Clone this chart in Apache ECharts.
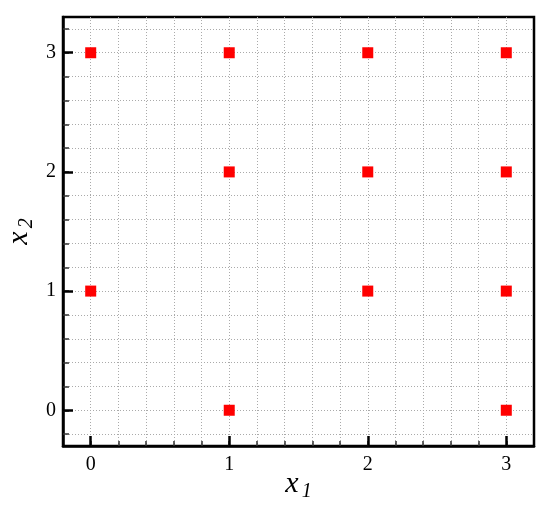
<!DOCTYPE html>
<html>
<head>
<meta charset="utf-8">
<script src="https://cdn.jsdelivr.net/npm/echarts@6/dist/echarts.min.js"></script>
<style>html,body{margin:0;padding:0;background:#fff}#c{width:550px;height:506px}</style>
</head>
<body>
<div id="c"></div>
<script>
const xValues = [0, 1, 2, 3, 1, 2, 3, 0, 2, 3, 1, 3];
const yValues = [3, 3, 3, 3, 2, 2, 2, 1, 1, 1, 0, 0];
const majorTicks = [0, 1, 2, 3];
const tickLabels = ['0', '1', '2', '3'];
const xGridValues = [0, 0.2, 0.4, 0.6, 0.8, 1, 1.2, 1.4, 1.6, 1.8, 2, 2.2, 2.4, 2.6, 2.8, 3];
const yGridValues = [-0.2, 0, 0.2, 0.4, 0.6, 0.8, 1, 1.2, 1.4, 1.6, 1.8, 2, 2.2, 2.4, 2.6, 2.8, 3, 3.2];
const xRange = [-0.2, 3.2];
const yRange = [-0.3, 3.3];

const serif = 'Liberation Serif';
const chart = echarts.init(document.getElementById('c'));

const points = xValues.map((x, i) => [x, yValues[i]]);

function nameRich(base, sub) {
  return {
    text: '{b|' + base + '}{s|' + sub + '}',
    rich: {
      b: { fontFamily: serif, fontStyle: 'italic', fontSize: 30, color: '#000' },
      s: { fontFamily: serif, fontStyle: 'italic', fontSize: 20, color: '#000', padding: [16, 0, 0, 3] }
    }
  };
}
const xn = nameRich('x', '1');
const yn = nameRich('x', '2');

chart.setOption({
  animation: false,
  grid: { left: 63, right: 16, top: 17, bottom: 60, outerBoundsMode: 'none', containLabel: false,
    show: true, borderColor: '#000', borderWidth: 2.5, backgroundColor: 'transparent' },
  xAxis: [
    {
      type: 'value', min: xRange[0], max: xRange[1], position: 'bottom',
      axisLine: { show: true, onZero: false, lineStyle: { color: '#000', width: 2.5 } },
      axisTick: { show: true, inside: true, length: 5, customValues: xGridValues, lineStyle: { color: '#333', width: 1.5 } },
      axisLabel: { show: false },
      splitLine: { show: true, lineStyle: { color: '#aaa', width: 1, type: [1, 2] } },
      name: xn.text, nameLocation: 'middle', nameGap: 20,
      nameTextStyle: { rich: xn.rich }
    },
    {
      type: 'value', min: xRange[0], max: xRange[1], position: 'bottom',
      axisLine: { show: false, onZero: false },
      axisTick: { show: true, inside: true, length: 10, customValues: majorTicks, lineStyle: { color: '#000', width: 2.5 } },
      axisLabel: { show: true, customValues: majorTicks, margin: 9, fontFamily: serif, fontSize: 20, color: '#000',
        formatter: v => tickLabels[majorTicks.indexOf(v)] },
      splitLine: { show: false }
    }
  ],
  yAxis: [
    {
      type: 'value', min: yRange[0], max: yRange[1], position: 'left',
      axisLine: { show: true, onZero: false, lineStyle: { color: '#000', width: 2.5 } },
      axisTick: { show: true, inside: true, length: 6, customValues: yGridValues, lineStyle: { color: '#333', width: 1.5 } },
      axisLabel: { show: false },
      splitLine: { show: true, lineStyle: { color: '#aaa', width: 1, type: [1, 2] } },
      name: yn.text, nameLocation: 'middle', nameGap: 26,
      nameTextStyle: { rich: yn.rich }
    },
    {
      type: 'value', min: yRange[0], max: yRange[1], position: 'left',
      axisLine: { show: false, onZero: false },
      axisTick: { show: true, inside: true, length: 10, customValues: majorTicks, lineStyle: { color: '#000', width: 2.5 } },
      axisLabel: { show: true, customValues: majorTicks, margin: 7, fontFamily: serif, fontSize: 20, color: '#000',
        formatter: v => tickLabels[majorTicks.indexOf(v)] },
      splitLine: { show: false }
    }
  ],
  series: [{
    type: 'scatter', xAxisIndex: 0, yAxisIndex: 0,
    symbol: 'rect', symbolSize: 11,
    itemStyle: { color: '#ff0000', opacity: 1 },
    data: points, z: 5
  }]
});
</script>
</body>
</html>
